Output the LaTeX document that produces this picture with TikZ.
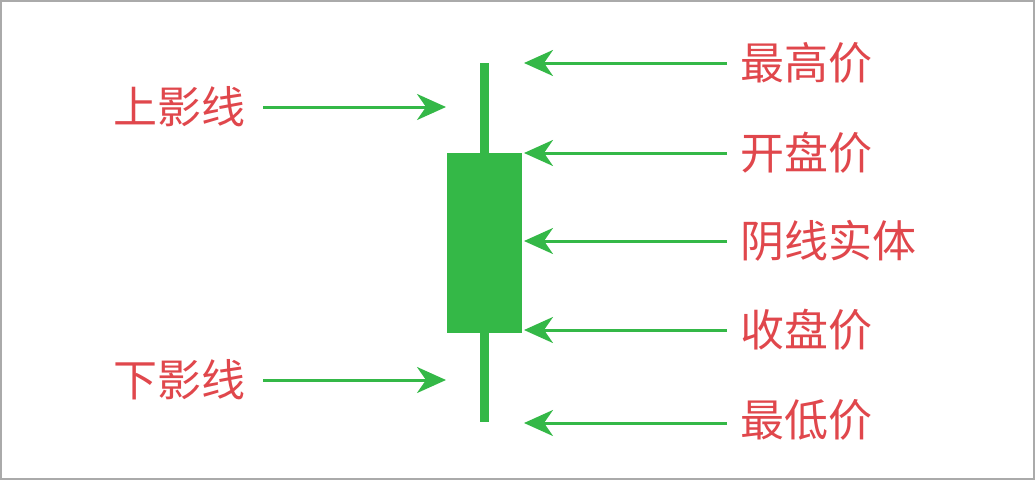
\documentclass[tikz,border=0pt]{standalone}
\usepackage{fontspec}
\newfontfamily\cjk{Noto Sans CJK SC}
\usetikzlibrary{arrows.meta}
\definecolor{kgreen}{HTML}{34B847}
\definecolor{kred}{HTML}{E0474C}
\definecolor{kborder}{HTML}{AAAAAA}
\tikzset{
  lbl/.style={text=kred, font=\cjk\fontsize{44}{50}\selectfont, inner sep=0pt},
  arr/.style={draw=kgreen, line width=3pt, -{Stealth[length=29pt, width=26pt, inset=9pt]}},
}
\begin{document}
\begin{tikzpicture}[x=1pt, y=-1pt]
\useasboundingbox (0,0) rectangle (1035,480);
\draw[kborder, line width=2pt] (1,1) rectangle (1034,479);
% candle
\fill[kgreen] (480,63) rectangle (489,422);
\fill[kgreen] (447,153) rectangle (522,333);
\coordinate (wtop) at (524,63);
\coordinate (open) at (524,153);
\coordinate (body) at (524,241);
\coordinate (close) at (524,330);
\coordinate (low) at (524,423);
\coordinate (upper) at (446,107);
\coordinate (lower) at (446,380);
% right labels
\node[lbl, anchor=west] (l1) at (740,63) {最高价};
\node[lbl, anchor=west] (l2) at (740,153) {开盘价};
\node[lbl, anchor=west] (l3) at (740,241) {阴线实体};
\node[lbl, anchor=west] (l4) at (740,330) {收盘价};
\node[lbl, anchor=west] (l5) at (740,420) {最低价};
% left labels
\node[lbl, anchor=east] (s1) at (246,107) {上影线};
\node[lbl, anchor=east] (s2) at (246,380) {下影线};
% arrows
\coordinate (a1) at (727,63);
\coordinate (a2) at (727,153);
\coordinate (a3) at (727,241);
\coordinate (a4) at (727,330);
\coordinate (a5) at (727,423);
\coordinate (b1) at (263,107);
\coordinate (b2) at (263,380);
\draw[arr] (a1) -- (wtop);
\draw[arr] (a2) -- (open);
\draw[arr] (a3) -- (body);
\draw[arr] (a4) -- (close);
\draw[arr] (a5) -- (low);
\draw[arr] (b1) -- (upper);
\draw[arr] (b2) -- (lower);
\end{tikzpicture}
\end{document}
